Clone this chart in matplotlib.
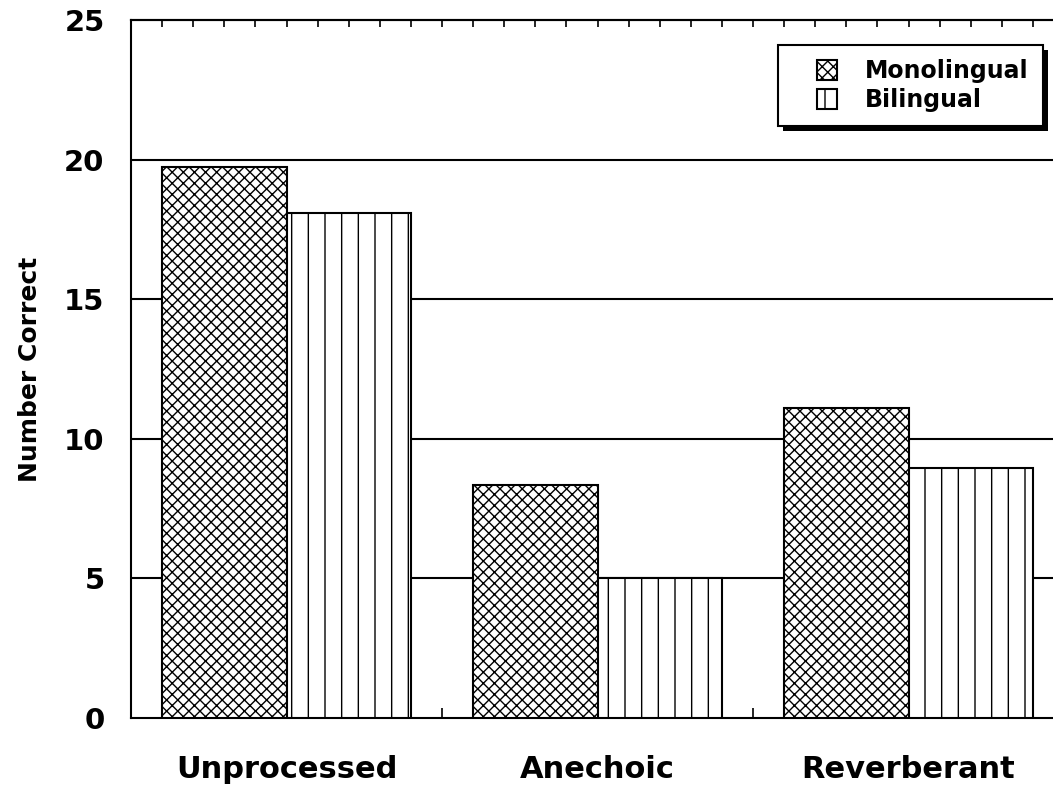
import matplotlib
matplotlib.use("Agg")
import matplotlib.pyplot as plt
from matplotlib.patches import Rectangle
from matplotlib.container import BarContainer
from matplotlib.legend_handler import HandlerPatch, update_from_first_child
import numpy as np

plt.rcParams['font.family'] = ['DejaVu Sans']
plt.rcParams['hatch.linewidth'] = 1.0

conditions = ['Unprocessed', 'Anechoic', 'Reverberant']
monolingual = [19.75, 8.35, 11.1]
bilingual = [18.1, 5.0, 8.95]
yticks = [0, 5, 10, 15, 20, 25]

fig = plt.figure(figsize=(10.53, 7.9), dpi=100)
# axes runs slightly past the right edge, as in the original
ax = fig.add_axes([131/1053, 72/790, 933/1053, 698/790])

x = np.arange(len(conditions))
w = 0.4
ax.bar(x + 0.1, monolingual, w, align='edge', color='white', edgecolor='black',
       hatch='xxx', linewidth=1.5, zorder=3, label='Monolingual')
ax.bar(x + 0.5, bilingual, w, align='edge', color='white', edgecolor='black',
       hatch='|', linewidth=1.5, zorder=3, label='Bilingual')

for yv in yticks[1:-1]:
    ax.axhline(yv, color='black', lw=1.5, zorder=1)

ax.set_xlim(0, 3)
ax.set_ylim(0, 25)
ax.set_yticks(yticks)
ax.set_yticklabels([str(v) for v in yticks], fontsize=21, fontweight='bold')
ax.tick_params(axis='y', length=0, pad=19)

ax.set_xticks(x + 0.5)
ax.set_xticklabels(conditions, fontsize=22, fontweight='bold')
ax.set_xticks([1, 2], minor=True)
ax.tick_params(axis='x', which='major', length=0, pad=27)
ax.tick_params(axis='x', which='minor', length=7, direction='in', width=1.2)

# inward minor ticks along the top
sec = ax.secondary_xaxis('top')
sec.set_xticks(np.arange(0, 3.01, 0.1))
sec.set_xticklabels([])
sec.tick_params(length=5, direction='in', width=1.2)
sec.spines['top'].set_linewidth(1.5)

ax.spines['right'].set_visible(False)
for s in ['left', 'bottom', 'top']:
    ax.spines[s].set_linewidth(1.5)

ax.set_ylabel('Number Correct', fontsize=18, fontweight='bold')
ax.yaxis.set_label_coords(-0.095, 0.5)


def square_patch(legend, orig_handle, xdescent, ydescent, width, height, fontsize):
    # small square pushed to the right part of the handle box
    return Rectangle((-xdescent + width - height, -ydescent), height, height)


leg = ax.legend(loc='upper right', bbox_to_anchor=(1043/1053, 1 - 45/790),
                bbox_transform=fig.transFigure, borderaxespad=0,
                fancybox=False, shadow=False,
                prop={'size': 17, 'weight': 'bold'}, handlelength=1.9,
                handleheight=0.95, handletextpad=1.2, labelspacing=0.2,
                borderpad=0.6, framealpha=1,
                handler_map={BarContainer: HandlerPatch(patch_func=square_patch,
                                                        update_func=update_from_first_child)})
leg.get_frame().set_edgecolor('black')
leg.get_frame().set_linewidth(1.5)
leg.set_zorder(5)

fig.canvas.draw()
bb = leg.get_window_extent()
ax.add_patch(Rectangle((bb.x0 + 5, bb.y0 - 5), bb.width, bb.height,
                       transform=None, facecolor='black', edgecolor='none',
                       zorder=4.9, clip_on=False))

fig.savefig('out.png', dpi=100)
